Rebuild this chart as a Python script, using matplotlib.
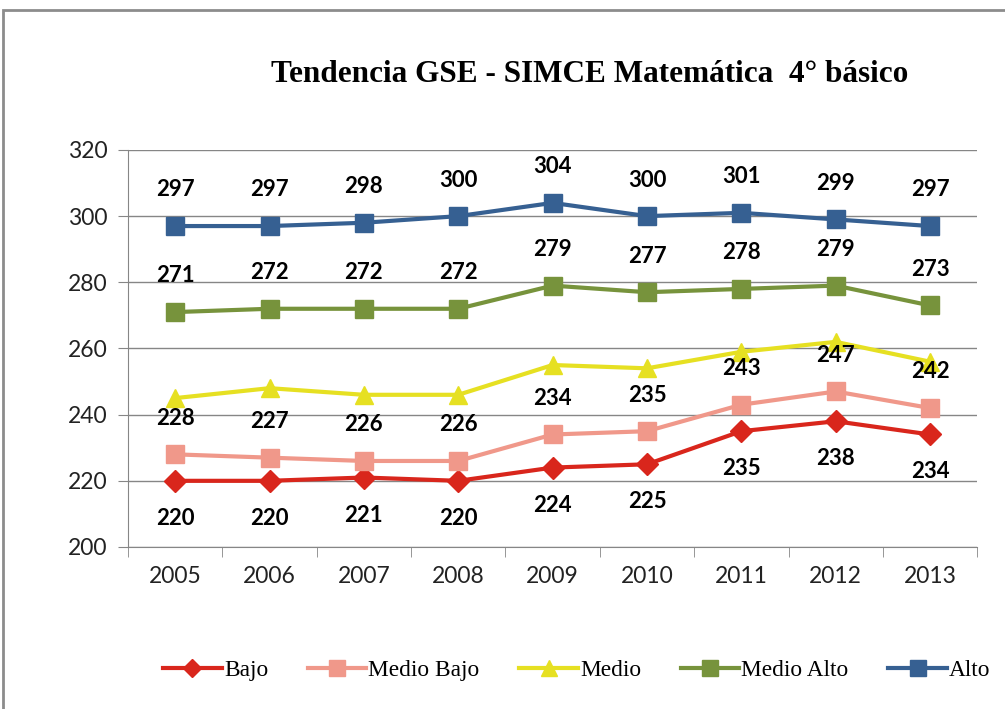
import numpy as np
import matplotlib
matplotlib.use("Agg")
import matplotlib.pyplot as plt
from matplotlib.patches import Rectangle

years = ["2005", "2006", "2007", "2008", "2009", "2010", "2011", "2012", "2013"]
bajo = [220, 220, 221, 220, 224, 225, 235, 238, 234]
medio_bajo = [228, 227, 226, 226, 234, 235, 243, 247, 242]
medio = [245, 248, 246, 246, 255, 254, 259, 262, 256]
medio_alto = [271, 272, 272, 272, 279, 277, 278, 279, 273]
alto = [297, 297, 298, 300, 304, 300, 301, 299, 297]

fig = plt.figure(figsize=(10.05, 7.09), dpi=100)
ax = fig.add_axes([0.1274, 0.2285, 0.845, 0.5600])

# outer border (chart frame)
fig.patches.append(Rectangle((0.003, -0.05), 1.05, 1.036, transform=fig.transFigure,
                             fill=False, edgecolor="#8c8c8c", linewidth=2))

x = np.arange(len(years))
series = [
    ("Bajo", bajo, "#D9261C", "D", 11, -27),
    ("Medio Bajo", medio_bajo, "#F0988A", "s", 13, 26),
    ("Medio", medio, "#E6E022", "^", 13, None),
    ("Medio Alto", medio_alto, "#77933C", "s", 13, 26),
    ("Alto", alto, "#366092", "s", 13, 26),
]

for name, vals, col, mk, ms, off in series:
    ax.plot(x, vals, color=col, lw=3, marker=mk, markersize=ms, label=name, zorder=3)

for name, vals, col, mk, ms, off in series:
    if off is None:
        continue
    for xi, v in zip(x, vals):
        ax.annotate(str(v), (xi, v), xytext=(0, off), textcoords="offset points",
                    ha="center", va="center", fontsize=16, fontweight="bold",
                    family="Lato", color="black", zorder=4)

ax.set_xlim(-0.5, len(years) - 0.5)
ax.set_ylim(200, 320)
ax.set_yticks(np.arange(200, 321, 20))
ax.set_xticks(x)
ax.set_xticklabels(years)
ax.set_xticks(np.arange(-0.5, len(years), 1), minor=True)
ax.tick_params(axis="x", which="major", length=0, pad=14, labelsize=16.5, labelcolor="#222222")
ax.tick_params(axis="x", which="minor", length=7, color="#868686", direction="out")
ax.tick_params(axis="y", length=7, color="#868686", pad=8, labelsize=16.5, labelcolor="#222222")
for lbl in ax.get_xticklabels() + ax.get_yticklabels():
    lbl.set_family("Lato")

ax.grid(axis="y", color="#868686", lw=1)
ax.set_axisbelow(True)
for s in ["top", "right"]:
    ax.spines[s].set_visible(False)
for s in ["left", "bottom"]:
    ax.spines[s].set_color("#868686")

fig.text(0.587, 0.895, "Tendencia GSE - SIMCE Matemática  4° básico", ha="center", va="center",
         fontsize=22.5, fontweight="bold", family="Liberation Serif")

leg = fig.legend(loc="center", bbox_to_anchor=(0.574, 0.055), ncol=5, frameon=False,
                 prop={"family": "Liberation Serif", "size": 16.8}, handlelength=2.5,
                 handletextpad=0.1, columnspacing=1.7, markerscale=0.85)

fig.savefig("out.png", dpi=100)
